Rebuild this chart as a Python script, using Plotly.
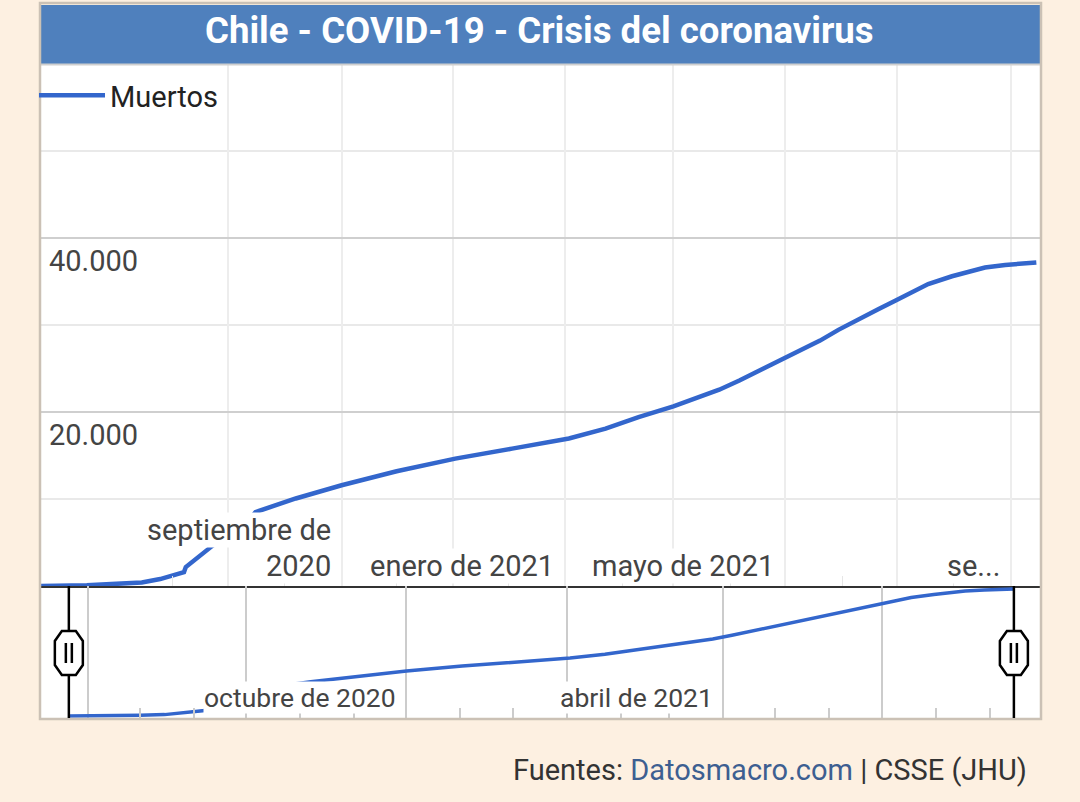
import plotly.graph_objects as go

# ---------------- data ----------------
dates = ["2020-03-21", "2020-04-01", "2020-04-15", "2020-05-01", "2020-05-15",
         "2020-05-25", "2020-06-03", "2020-06-07", "2020-06-08", "2020-06-14",
         "2020-06-20", "2020-06-23", "2020-06-27", "2020-07-03", "2020-07-10",
         "2020-07-16", "2020-08-07", "2020-09-01", "2020-10-01", "2020-11-02",
         "2020-12-03", "2020-12-18", "2021-01-03", "2021-01-23", "2021-02-01",
         "2021-02-10", "2021-03-01", "2021-03-13", "2021-03-26", "2021-04-06",
         "2021-04-15", "2021-04-24", "2021-05-01", "2021-05-09", "2021-05-20",
         "2021-05-30", "2021-06-10", "2021-06-21", "2021-06-30", "2021-07-09",
         "2021-07-18", "2021-07-31", "2021-08-09", "2021-08-18", "2021-08-29",
         "2021-09-07", "2021-09-15"]
muertos = [0, 20, 100, 250, 400,
           800, 1380, 1600, 2180, 3200,
           4130, 4700, 5050, 6200, 6900,
           8500, 10060, 11580, 13190, 14640,
           15790, 16300, 16950, 18080, 18730,
           19420, 20640, 21520, 22560, 23620,
           24580, 25540, 26300, 27060, 28210,
           29440, 30700, 31850, 32800, 33750,
           34710, 35600, 36150, 36600, 36900,
           37080, 37190]

series_name = "Muertos"
title_text = "Chile - COVID-19 - Crisis del coronavirus"

main_tick_dates = ["2020-09-01", "2021-01-01", "2021-05-01", "2021-09-01"]
main_tick_labels = [["septiembre de", "2020"], ["enero de 2021"], ["mayo de 2021"], ["se..."]]
nav_tick_dates = ["2020-10-01", "2021-04-01"]
nav_tick_labels = ["octubre de 2020", "abril de 2021"]

main_x_range = ["2020-03-21", "2021-09-17"]
nav_x_range = ["2020-03-05", "2021-09-30"]

# ---------------- styling ----------------
FONT = "Roboto, Arial, sans-serif"
LINE_COLOR = "#3366cc"
BG = "#fdf0e1"
TXT = "#444444"

W, H = 1080, 802
ML, MR, MT, MB = 41, 40, 64, 84
PH = H - MT - MB
NAV_TOP = (718 - 586) / PH  # paper fraction of navigator top


def py(pix):
    """convert page pixel y to paper fraction"""
    return (H - MB - pix) / PH


def px(pix):
    return (pix - ML) / (W - ML - MR)


fig = go.Figure()

fig.add_trace(go.Scatter(
    x=dates, y=muertos, mode="lines", name=series_name,
    line=dict(color=LINE_COLOR, width=4.5), xaxis="x", yaxis="y",
    showlegend=True, hoverinfo="skip"))

fig.add_trace(go.Scatter(
    x=dates, y=muertos, mode="lines", name=series_name,
    line=dict(color=LINE_COLOR, width=3.5), xaxis="x2", yaxis="y2",
    showlegend=False, hoverinfo="skip"))

annotations = []
# main x labels (white background masks the line, as in the reference)
for d, lines in zip(main_tick_dates, main_tick_labels):
    n = len(lines)
    for i, t in enumerate(lines):
        annotations.append(dict(
            x=d, xref="x", y=0, yref="y", text=t, showarrow=False,
            xanchor="right", yanchor="middle", xshift=-10,
            yshift=20 + (n - 1 - i) * 36,
            font=dict(family=FONT, size=29, color=TXT),
            bgcolor="white", borderpad=0))
# navigator labels
for d, t in zip(nav_tick_dates, nav_tick_labels):
    annotations.append(dict(
        x=d, xref="x2", y=0, yref="paper", text=t, showarrow=False,
        xanchor="right", yanchor="middle", xshift=-9, yshift=21,
        font=dict(family=FONT, size=26.5, color=TXT),
        bgcolor="white", borderpad=0))
# title
annotations.append(dict(
    x=px(539), xref="paper", y=py(31), yref="paper", text="<b>" + title_text + "</b>",
    showarrow=False, xanchor="center", yanchor="middle",
    font=dict(family=FONT, size=36.6, color="white")))
# sources
annotations.append(dict(
    x=px(1029), xref="paper", y=py(770), yref="paper",
    text="Fuentes: <span style='color:#3d5f91'>Datosmacro.com</span> | CSSE (JHU)",
    showarrow=False, xanchor="right", yanchor="middle",
    font=dict(family=FONT, size=29, color="#333333")))

shapes = []
# title bar
shapes.append(dict(type="rect", xref="paper", yref="paper", x0=0, x1=1,
                   y0=py(64), y1=py(5), fillcolor="#4f80bd", line=dict(width=0),
                   layer="above"))
shapes.append(dict(type="line", xref="paper", yref="paper", x0=0, x1=1,
                   y0=py(64.5), y1=py(64.5), line=dict(color="#cfcfcf", width=2),
                   layer="above"))
# outer border of the chart box
shapes.append(dict(type="rect", xref="paper", yref="paper", x0=px(40), x1=px(1041),
                   y0=py(719), y1=py(3), line=dict(color="#cbc1b5", width=2.5),
                   fillcolor="rgba(0,0,0,0)", layer="above"))
# navigator handles at the data extents
nav_mid = py(653)
oct_path = "M-7,22 L7,22 L14,12 L14,-12 L7,-22 L-7,-22 L-14,-12 L-14,12 Z"
for d in (dates[0], dates[-1]):
    shapes.append(dict(type="line", xref="x2", yref="paper", x0=d, x1=d,
                       y0=0, y1=NAV_TOP, line=dict(color="black", width=2.5),
                       layer="above"))
    shapes.append(dict(type="path", xref="x2", yref="paper", xsizemode="pixel",
                       ysizemode="pixel", xanchor=d, yanchor=nav_mid, path=oct_path,
                       fillcolor="white", line=dict(color="black", width=2.5),
                       layer="above"))
    shapes.append(dict(type="path", xref="x2", yref="paper", xsizemode="pixel",
                       ysizemode="pixel", xanchor=d, yanchor=nav_mid,
                       path="M-3,-10 L-3,10 M3,-10 L3,10",
                       line=dict(color="black", width=2.5), layer="above"))

fig.update_layout(
    width=W, height=H,
    margin=dict(l=ML, r=MR, t=MT, b=MB),
    paper_bgcolor=BG, plot_bgcolor="white",
    separators=",.",
    font=dict(family=FONT, color=TXT),
    showlegend=True,
    legend=dict(x=-0.007, y=1 - 6 / PH, xanchor="left", yanchor="top",
                bgcolor="rgba(0,0,0,0)", font=dict(family=FONT, size=29, color="#222222"),
                itemwidth=66, tracegroupgap=0),
    xaxis=dict(domain=[0, 1], anchor="y", type="date", range=main_x_range,
               showgrid=True, gridcolor="#ededed", gridwidth=1.5,
               dtick="M2", tick0="2020-01-01", ticks="", showticklabels=False,
               showline=True, linecolor="#333333", linewidth=2,
               minor=dict(dtick="M1", tick0="2020-01-01", ticks="inside", ticklen=10,
                          tickcolor="#e6e6e6", showgrid=False),
               fixedrange=True),
    yaxis=dict(domain=[NAV_TOP, 1], anchor="x", range=[0, 60000],
               tickvals=[20000, 40000], tickformat=",d",
               showgrid=True, gridcolor="#cfcfcf", gridwidth=2,
               zeroline=False, ticks="", ticklabelposition="inside",
               ticklabelshift=23, ticklabelstandoff=5,
               tickfont=dict(family=FONT, size=29, color=TXT),
               minor=dict(dtick=10000, tick0=0, showgrid=True, gridcolor="#e9e9e9",
                          gridwidth=2),
               fixedrange=True),
    xaxis2=dict(domain=[0, 1], anchor="y2", type="date", range=nav_x_range,
                showgrid=True, gridcolor="#cccccc", gridwidth=2,
                dtick="M3", tick0="2020-01-01", ticks="", showticklabels=False,
                showline=True, linecolor="#333333", linewidth=2,
                minor=dict(dtick="M1", tick0="2020-01-01", ticks="inside", ticklen=10,
                           tickcolor="#cccccc", tickwidth=1.5, showgrid=False),
                fixedrange=True),
    yaxis2=dict(domain=[0, NAV_TOP], anchor="x2", range=[-590, 38070],
                showgrid=False, zeroline=False, showticklabels=False, ticks="",
                fixedrange=True),
    annotations=annotations,
    shapes=shapes,
    hovermode=False,
)

fig.write_html("out.html", config={"displayModeBar": False},
               post_script="document.body.style.margin='0';document.body.style.overflow='hidden';")
